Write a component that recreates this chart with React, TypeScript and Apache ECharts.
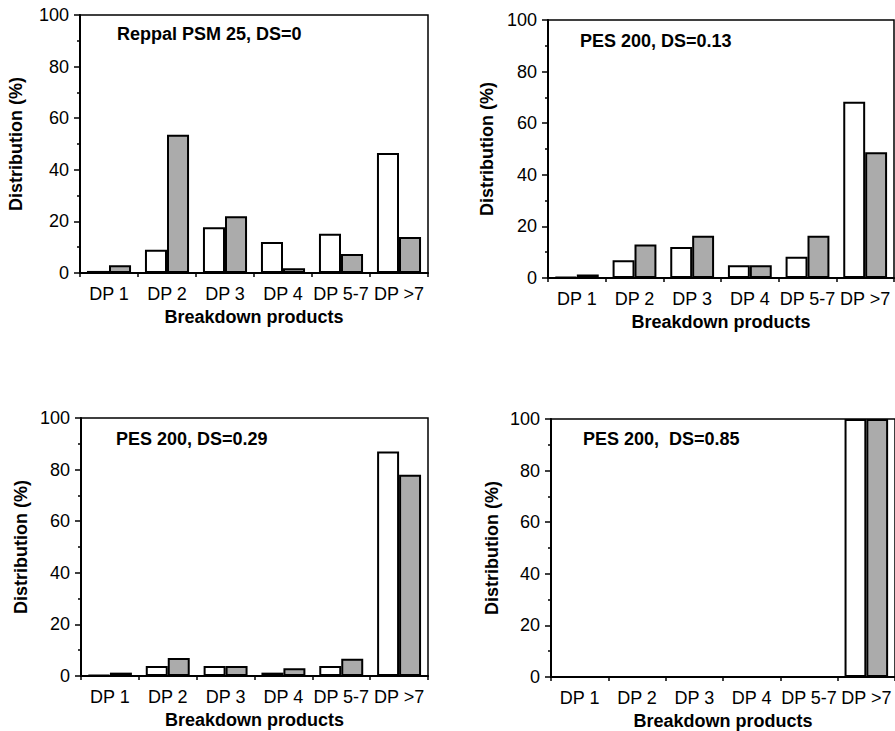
import React, { useEffect, useRef } from "react";
import * as echarts from "echarts";

const categories = ["DP 1", "DP 2", "DP 3", "DP 4", "DP 5-7", "DP >7"];
const yTickValues = { min: 0, max: 100, interval: 20 };
const panelTitles = [
  "Reppal PSM 25, DS=0",
  "PES 200, DS=0.13",
  "PES 200, DS=0.29",
  "PES 200,  DS=0.85",
];
const whiteA = [0.8, 9, 17.7, 12, 15.2, 46.5];
const grayA = [3, 53.6, 22, 1.8, 7.4, 14];
const whiteB = [0.3, 6.9, 12, 4.9, 8.2, 68.3];
const grayB = [1.4, 13, 16.4, 4.9, 16.4, 48.7];
const whiteC = [0.3, 3.9, 3.9, 1.3, 3.9, 87];
const grayC = [1.3, 7, 3.9, 3, 6.7, 78];
const whiteD = [0, 0, 0, 0, 0, 100];
const grayD = [0, 0, 0, 0, 0, 100];

const FONT = "'Liberation Sans', Arial, Helvetica, sans-serif";

const grids = [
  { left: 80, top: 15, width: 348, height: 258 },
  { left: 548, top: 20, width: 346, height: 258 },
  { left: 81, top: 418, width: 347, height: 258 },
  { left: 551, top: 419, width: 348, height: 258 },
];
const titlePos = [
  { left: 117, top: 25 },
  { left: 580, top: 32 },
  { left: 116, top: 430 },
  { left: 583, top: 430 },
];
const yNameGaps = [55, 52, 51, 50];
const seriesData = [
  [whiteA, grayA],
  [whiteB, grayB],
  [whiteC, grayC],
  [whiteD, grayD],
];

export default function App() {
  const ref = useRef<HTMLDivElement>(null);
  useEffect(() => {
    if (!ref.current) return;
    const chart = echarts.init(ref.current, null, { renderer: "svg" });
    const option: any = {
      animation: false,
      backgroundColor: "#fff",
      title: panelTitles.map((t, i) => ({
        text: t,
        left: titlePos[i].left,
        top: titlePos[i].top,
        padding: 0,
        textStyle: { fontSize: 18, fontWeight: "bold", fontFamily: FONT, color: "#000" },
      })),
      grid: grids.map((g) => ({
        ...g,
        show: true,
        borderColor: "#000",
        borderWidth: 1.5,
        backgroundColor: "transparent",
        containLabel: false,
      })),
      xAxis: grids.map((_, i) => ({
        type: "category",
        gridIndex: i,
        data: categories,
        name: "Breakdown products",
        nameLocation: "middle",
        nameGap: 35,
        nameTextStyle: { fontSize: 18, fontWeight: "bold", fontFamily: FONT, color: "#000" },
        axisLine: { lineStyle: { color: "#000", width: 2 } },
        axisTick: { show: true, length: 4, inside: false, lineStyle: { color: "#000", width: 1.5 } },
        axisLabel: { fontSize: 18, fontFamily: FONT, color: "#000", margin: 12, interval: 0 },
        splitLine: { show: false },
      })),
      yAxis: grids.map((_, i) => ({
        type: "value",
        gridIndex: i,
        min: yTickValues.min,
        max: yTickValues.max,
        interval: yTickValues.interval,
        name: "Distribution (%)",
        nameLocation: "middle",
        nameGap: yNameGaps[i],
        nameTextStyle: { fontSize: 18, fontWeight: "bold", fontFamily: FONT, color: "#000" },
        axisLine: { show: true, lineStyle: { color: "#000", width: 2 } },
        axisTick: { show: true, length: 6, lineStyle: { color: "#000", width: 1.5 } },
        minorTick: { show: true, splitNumber: 2, length: 3, lineStyle: { color: "#000", width: 1.5 } },
        axisLabel: { fontSize: 18, fontFamily: FONT, color: "#000", margin: 11 },
        splitLine: { show: false },
      })),
      series: seriesData.flatMap((pair, i) => [
        {
          type: "bar",
          xAxisIndex: i,
          yAxisIndex: i,
          data: pair[0],
          barGap: "0%",
          barCategoryGap: "24%",
          itemStyle: { color: "#ffffff", borderColor: "#000", borderWidth: 2 },
        },
        {
          type: "bar",
          xAxisIndex: i,
          yAxisIndex: i,
          data: pair[1],
          barGap: "0%",
          barCategoryGap: "24%",
          itemStyle: { color: "#ababab", borderColor: "#000", borderWidth: 2 },
        },
      ]),
    };
    chart.setOption(option);
    return () => chart.dispose();
  }, []);
  return (
    <div
      ref={ref}
      style={{ position: "absolute", left: 0, top: 0, width: 895, height: 731 }}
    />
  );
}
